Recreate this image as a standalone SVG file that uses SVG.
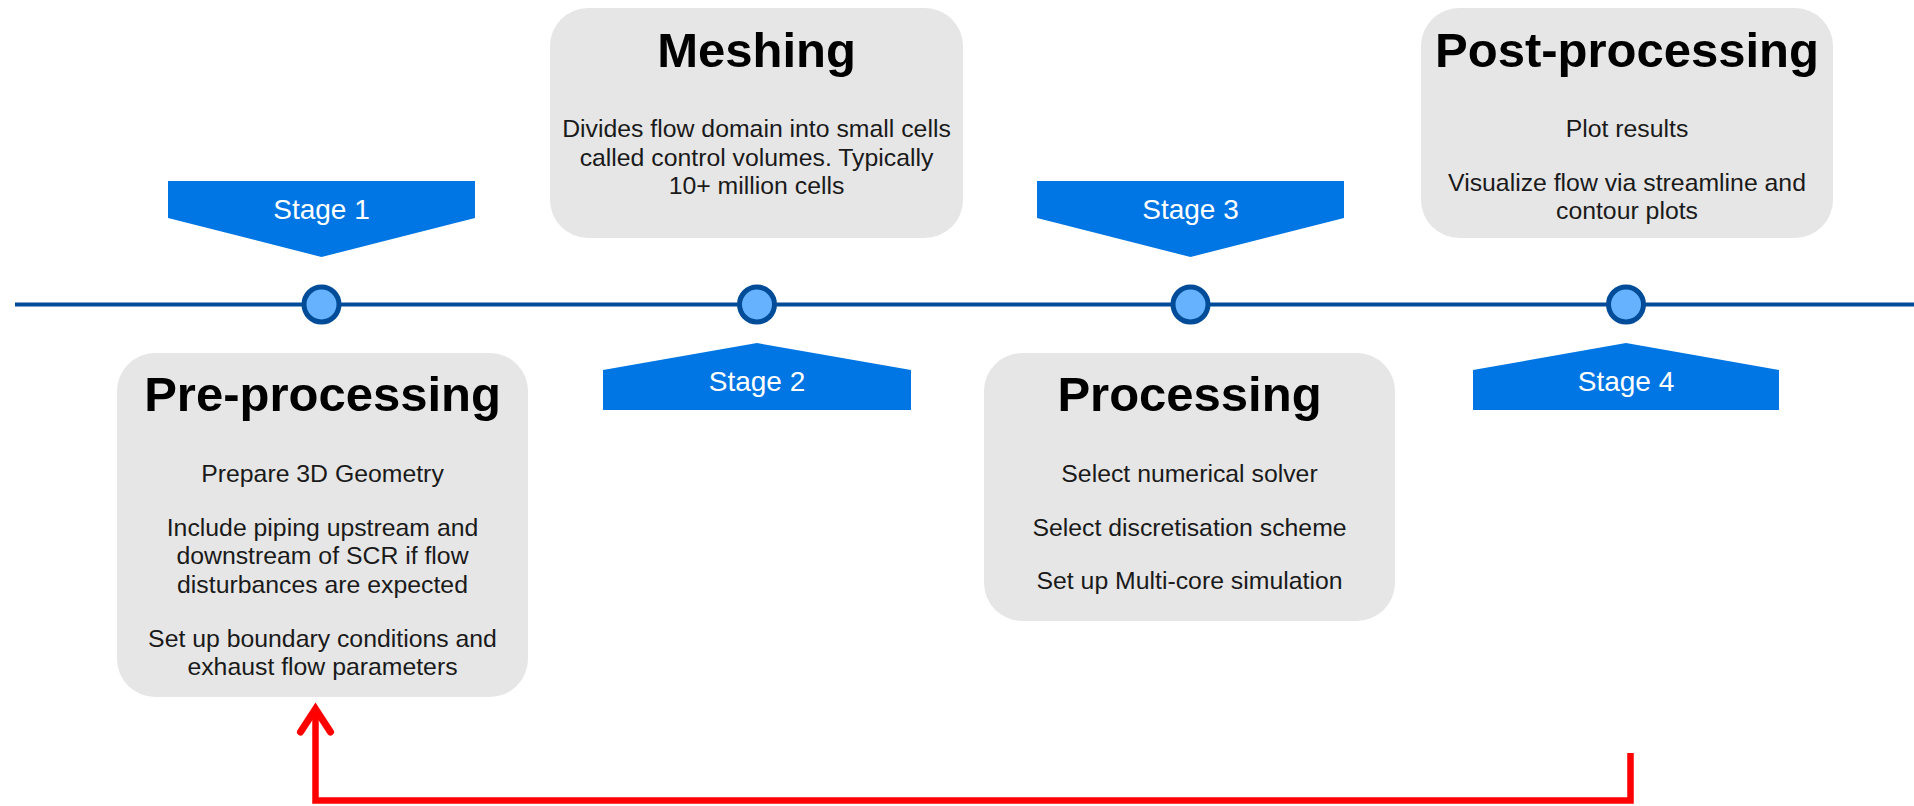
<svg xmlns="http://www.w3.org/2000/svg" width="1914" height="806" viewBox="0 0 1914 806">
  <style>
    .card { fill: #E6E6E6; }
    .title { font-family: "Liberation Sans", Arial, sans-serif; font-weight: bold; font-size: 49px; fill: #000000; text-anchor: middle; }
    .body { font-family: "Liberation Sans", Arial, sans-serif; font-size: 24.8px; fill: #1A1A1A; text-anchor: middle; }
    .banner { fill: #0076E4; }
    .stage { font-family: "Liberation Sans", Arial, sans-serif; font-size: 28px; fill: #FFFFFF; text-anchor: middle; }
    .axis { stroke: #004C99; stroke-width: 4; fill: none; }
    .dot { fill: #66B2FF; stroke: #004C99; stroke-width: 5; }
    .loop { stroke: #FF0000; stroke-width: 6.5; fill: none; stroke-linejoin: miter; }
  </style>
  <defs>
    <marker id="openArrow" markerUnits="userSpaceOnUse" viewBox="-30 -20 40 40" refX="0" refY="0" markerWidth="40" markerHeight="40" orient="auto" overflow="visible">
      <path d="M-23,-15 L0,0 L-23,15" fill="none" stroke="#FF0000" stroke-width="7" stroke-linecap="round" stroke-linejoin="miter"/>
    </marker>
  </defs>

  <!-- timeline axis -->
  <g id="timeline">
    <line class="axis" x1="15" y1="304.5" x2="1914" y2="304.5"/>
  </g>

  <!-- connectors -->
  <g id="connectors">
    <path class="loop" d="M1630.5,753 L1630.5,800.5 L315.5,800.5 L315.5,709" marker-end="url(#openArrow)"/>
  </g>

  <!-- stage 1 -->
  <g id="stage1">
    <path class="banner" d="M168,181 H475 V218 L321.5,257 L168,218 Z"/>
    <text class="stage" x="321.5" y="219">Stage 1</text>
    <circle class="dot" cx="321.5" cy="304.5" r="17.5"/>
  </g>
  <g id="preprocessing">
    <rect class="card" x="117" y="353" width="411" height="344" rx="38" ry="38"/>
    <text class="title" x="322.5" y="411">Pre-processing</text>
    <text class="body" x="322.5" y="482">Prepare 3D Geometry</text>
    <text class="body" x="322.5" y="536">Include piping upstream and</text>
    <text class="body" x="322.5" y="564">downstream of SCR if flow</text>
    <text class="body" x="322.5" y="592.5">disturbances are expected</text>
    <text class="body" x="322.5" y="647">Set up boundary conditions and</text>
    <text class="body" x="322.5" y="675">exhaust flow parameters</text>
  </g>

  <!-- stage 2 -->
  <g id="stage2">
    <path class="banner" d="M603,410 V370 L757,343 L911,370 V410 Z"/>
    <text class="stage" x="757" y="391">Stage 2</text>
    <circle class="dot" cx="757" cy="304.5" r="17.5"/>
  </g>
  <g id="meshing">
    <rect class="card" x="550" y="8" width="413" height="230" rx="38" ry="38"/>
    <text class="title" x="756.5" y="67">Meshing</text>
    <text class="body" x="756.5" y="137">Divides flow domain into small cells</text>
    <text class="body" x="756.5" y="165.5">called control volumes. Typically</text>
    <text class="body" x="756.5" y="194">10+ million cells</text>
  </g>

  <!-- stage 3 -->
  <g id="stage3">
    <path class="banner" d="M1037,181 H1344 V218 L1190.5,257 L1037,218 Z"/>
    <text class="stage" x="1190.5" y="219">Stage 3</text>
    <circle class="dot" cx="1190.5" cy="304.5" r="17.5"/>
  </g>
  <g id="processing">
    <rect class="card" x="984" y="353" width="411" height="268" rx="38" ry="38"/>
    <text class="title" x="1189.5" y="411">Processing</text>
    <text class="body" x="1189.5" y="482">Select numerical solver</text>
    <text class="body" x="1189.5" y="536">Select discretisation scheme</text>
    <text class="body" x="1189.5" y="589">Set up Multi-core simulation</text>
  </g>

  <!-- stage 4 -->
  <g id="stage4">
    <path class="banner" d="M1473,410 V370 L1626,343 L1779,370 V410 Z"/>
    <text class="stage" x="1626" y="391">Stage 4</text>
    <circle class="dot" cx="1626" cy="304.5" r="17.5"/>
  </g>
  <g id="postprocessing">
    <rect class="card" x="1421" y="8" width="412" height="230" rx="38" ry="38"/>
    <text class="title" x="1627" y="67">Post-processing</text>
    <text class="body" x="1627" y="137">Plot results</text>
    <text class="body" x="1627" y="191">Visualize flow via streamline and</text>
    <text class="body" x="1627" y="218.5">contour plots</text>
  </g>
</svg>
